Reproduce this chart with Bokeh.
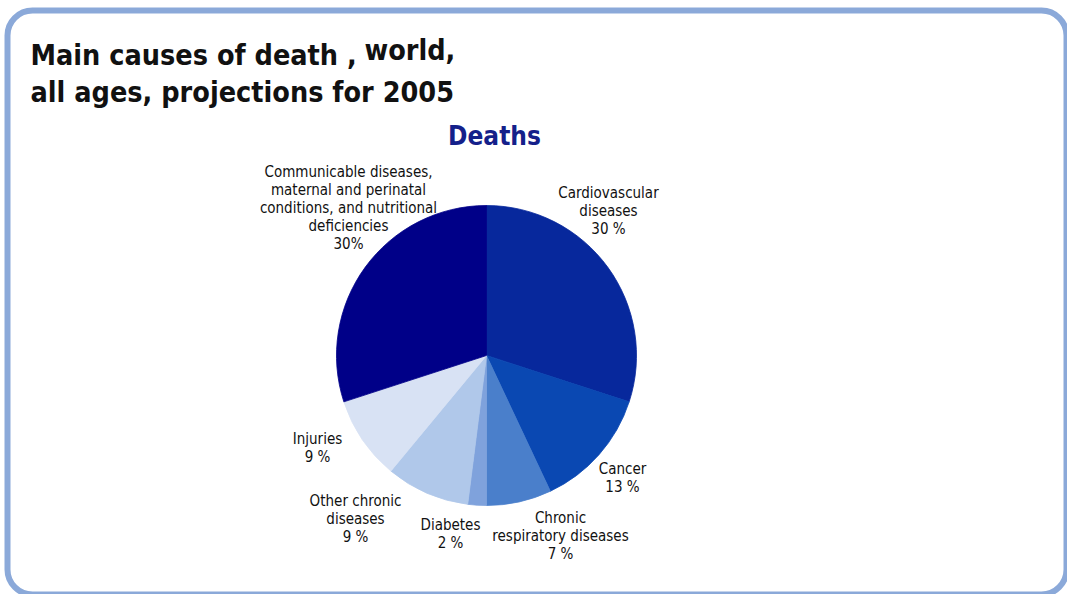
import numpy as np
from bokeh.plotting import figure
from bokeh.models import Range1d, BoxAnnotation, ColumnDataSource
from bokeh.core.properties import value
from bokeh.embed import file_html
from bokeh.resources import INLINE

# ---- data (clockwise from 12 o'clock) ----
causes = ["Cardiovascular\ndiseases", "Cancer", "Chronic\nrespiratory diseases", "Diabetes",
          "Other chronic\ndiseases", "Injuries",
          "Communicable diseases,\nmaternal and perinatal\nconditions, and nutritional\ndeficiencies"]
percents = [30, 13, 7, 2, 9, 9, 30]
pct_labels = ["30 %", "13 %", "7 %", "2 %", "9 %", "9 %", "30%"]
colors = ["#07289C", "#0A48B2", "#4A7FCB", "#7FA2DC", "#B0C8EA", "#D8E2F4", "#000088"]

title_line1 = "Main causes of death ,"
title_word = "world,"
title_line2 = "all ages, projections for 2005"
subtitle = "Deaths"

W, H = 1067, 594
NARROW = "'Liberation Sans Narrow', 'DejaVu Sans Condensed', 'Arial Narrow', Roboto, sans-serif"

def Y(py):
    return H - py

p = figure(width=W, height=H, x_range=Range1d(0, W), y_range=Range1d(0, H),
           output_backend="svg", toolbar_location=None, min_border=0)
p.axis.visible = False
p.grid.visible = False
p.outline_line_color = None
p.background_fill_color = "white"
p.border_fill_color = "white"

# panel frame
p.add_layout(BoxAnnotation(left=7, right=1066, top=Y(10), bottom=Y(594),
                           fill_alpha=0, line_color="#8BA9D9", line_alpha=1.0, line_width=6,
                           border_radius=25))

# pie
frac = np.array(percents, dtype=float) / sum(percents)
cum = np.concatenate([[0], np.cumsum(frac)]) * 2 * np.pi
src = ColumnDataSource(dict(start=np.pi / 2 - cum[1:], end=np.pi / 2 - cum[:-1], color=colors))
cx, cy, r = 486, Y(355), 150
p.wedge(x=cx, y=cy, radius=r, start_angle="start", end_angle="end", direction="anticlock",
        fill_color="color", line_color="color", line_width=0.8, source=src)

# labels
lab_x = [608, 622, 560, 450, 355, 317, 348]
lab_y = [210, 477, 535, 533, 518, 447, 207]
texts = [c + "\n" + s for c, s in zip(causes, pct_labels)]
p.text(x=lab_x, y=[Y(v) for v in lab_y], text=texts, text_align="center",
       text_baseline="middle", text_font=value(NARROW), text_font_size="15px",
       text_color="#111111", text_line_height=1.0)

# titles
p.text(x=[30], y=[Y(55)], text=[title_line1], text_font=value(NARROW), text_font_style="bold",
       text_font_size="28.5px", text_color="#111111", text_baseline="alphabetic")
p.text(x=[364], y=[Y(50)], text=[title_word], text_font=value(NARROW), text_font_style="bold",
       text_font_size="28.5px", text_color="#111111", text_baseline="alphabetic")
p.text(x=[30], y=[Y(92)], text=[title_line2], text_font=value(NARROW), text_font_style="bold",
       text_font_size="28.5px", text_color="#111111", text_baseline="alphabetic")
p.text(x=[494], y=[Y(135)], text=[subtitle], text_font=value(NARROW), text_font_style="bold",
       text_font_size="26px", text_color="#14208A", text_align="center", text_baseline="alphabetic")

open("out.html", "w").write(file_html(p, INLINE))
